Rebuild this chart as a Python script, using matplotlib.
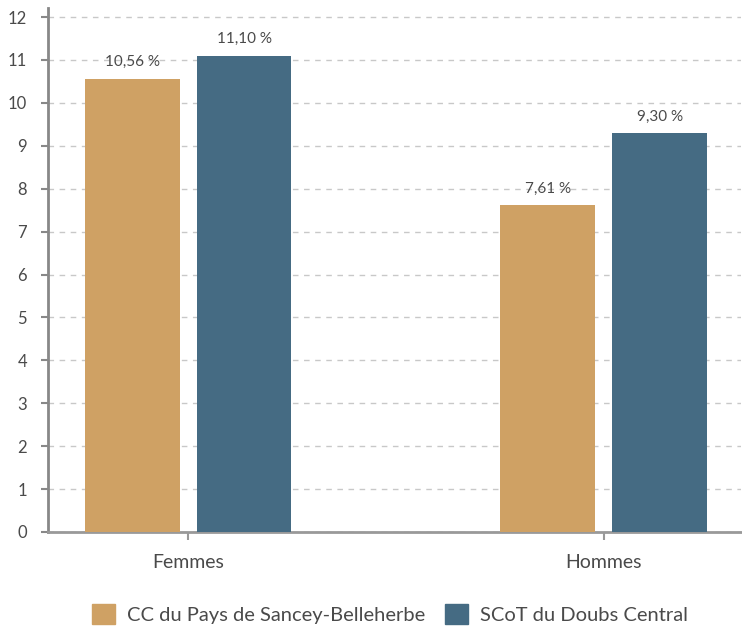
import numpy as np
import matplotlib.pyplot as plt
from matplotlib.patches import Patch

categories = ['Femmes', 'Hommes']
series_names = ['CC du Pays de Sancey-Belleherbe', 'SCoT du Doubs Central']
values_cc = [10.56, 7.61]
values_scot = [11.10, 9.30]
labels_cc = ['10,56 %', '7,61 %']
labels_scot = ['11,10 %', '9,30 %']

col_cc = '#CFA164'
col_scot = '#456B83'
txt = '#4a4a4a'

plt.rcParams['font.family'] = ['Lato', 'DejaVu Sans']

fig = plt.figure(figsize=(7.42, 6.29), dpi=100)
ax = fig.add_axes([48 / 742, 1 - 532 / 629, 693 / 742, 524 / 629])

x = np.arange(len(categories))
w = 0.228
off = 0.1346
b1 = ax.bar(x - off, values_cc, w, color=col_cc, zorder=3)
b2 = ax.bar(x + off, values_scot, w, color=col_scot, zorder=3)

for bars, labs in ((b1, labels_cc), (b2, labels_scot)):
    for r, lab in zip(bars, labs):
        ax.text(r.get_x() + r.get_width() / 2, r.get_height() + 0.22, lab,
                ha='center', va='bottom', fontsize=11, color=txt, zorder=4)

ax.set_xlim(-0.337, 1.33)
ax.set_ylim(0, 12.21)
ax.set_yticks(range(0, 13))
ax.set_xticks(x)
ax.set_xticklabels(categories)
ax.yaxis.grid(True, linestyle=(0, (4, 4)), color='#c8c8c8', linewidth=1, zorder=0)
ax.set_axisbelow(True)

for s in ['top', 'right']:
    ax.spines[s].set_visible(False)
ax.spines['left'].set_color('#888888')
ax.spines['left'].set_linewidth(2)
ax.spines['bottom'].set_color('#999999')
ax.spines['bottom'].set_linewidth(2)

ax.tick_params(axis='y', length=5, width=1.5, color='#888888', labelsize=12, labelcolor=txt, pad=10)
ax.tick_params(axis='x', length=6, width=1.5, color='#999999', labelsize=14, labelcolor=txt, pad=10)

handles = [Patch(color=col_cc), Patch(color=col_scot)]
fig.legend(handles, series_names, loc='center', bbox_to_anchor=(390 / 742, 1 - 614 / 629),
           ncol=2, frameon=False, fontsize=14.5, handlelength=1.15, handleheight=1.15,
           columnspacing=1.0, handletextpad=0.6, labelcolor=txt)

fig.savefig('out.png', dpi=100)
